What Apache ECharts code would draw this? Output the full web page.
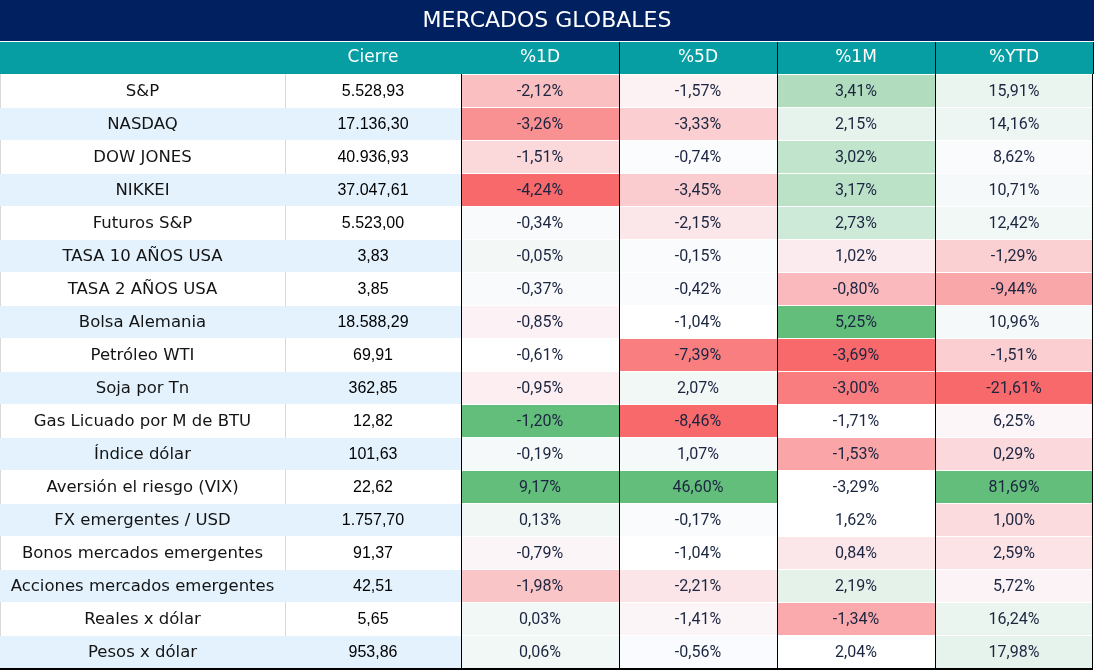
<!DOCTYPE html>
<html><head><meta charset="utf-8">
<script src="https://cdn.jsdelivr.net/npm/echarts@6/dist/echarts.min.js"></script>
<style>html,body{margin:0;padding:0;background:#fff}#c{width:1094px;height:670px}</style>
</head><body><div id="c"></div>
<script>
const titleText = 'MERCADOS GLOBALES';
const closeHeader = ['Cierre'];
const pctHeaders = ['%1D', '%5D', '%1M', '%YTD'];
const instruments = ['S&P', 'NASDAQ', 'DOW JONES', 'NIKKEI', 'Futuros S&P', 'TASA 10 AÑOS USA', 'TASA 2 AÑOS USA',
  'Bolsa Alemania', 'Petróleo WTI', 'Soja por Tn', 'Gas Licuado por M de BTU', 'Índice dólar',
  'Aversión el riesgo (VIX)', 'FX emergentes / USD', 'Bonos mercados emergentes', 'Acciones mercados emergentes',
  'Reales x dólar', 'Pesos x dólar'];
const closeValues = [5528.93, 17136.30, 40936.93, 37047.61, 5523.00, 3.83, 3.85, 18588.29, 69.91, 362.85, 12.82,
  101.63, 22.62, 1757.70, 91.37, 42.51, 5.65, 953.86];
const chg1D = [-2.12, -3.26, -1.51, -4.24, -0.34, -0.05, -0.37, -0.85, -0.61, -0.95, -1.20, -0.19, 9.17, 0.13, -0.79, -1.98, 0.03, 0.06];
const chg5D = [-1.57, -3.33, -0.74, -3.45, -2.15, -0.15, -0.42, -1.04, -7.39, 2.07, -8.46, 1.07, 46.60, -0.17, -1.04, -2.21, -1.41, -0.56];
const chg1M = [3.41, 2.15, 3.02, 3.17, 2.73, 1.02, -0.80, 5.25, -3.69, -3.00, -1.71, -1.53, -3.29, 1.62, 0.84, 2.19, -1.34, 2.04];
const chgYTD = [15.91, 14.16, 8.62, 10.71, 12.42, -1.29, -9.44, 10.96, -1.51, -21.61, 6.25, 0.29, 81.69, 1.00, 2.59, 5.72, 16.24, 17.98];
// cells whose shade in the source does not follow its column's colour scale: [column, row, shade -1..1]
const shadeOverrides = [[0, 10, 1], [2, 10, 0], [2, 12, 0], [2, 17, 0]];

const pctColumns = [chg1D, chg5D, chg1M, chgYTD];
const rowIdx = instruments.map((_, i) => i);

// 3-colour scale (min red, median white, max green) per column
function columnShades(vals, col) {
  const fixed = new Map(shadeOverrides.filter(o => o[0] === col).map(o => [o[1], o[2]]));
  const pool = vals.filter((v, i) => !fixed.has(i)).sort((a, b) => a - b);
  const n = pool.length;
  const med = n % 2 ? pool[(n - 1) / 2] : (pool[n / 2 - 1] + pool[n / 2]) / 2;
  const lo = pool[0], hi = pool[n - 1];
  return vals.map((v, i) => fixed.has(i) ? fixed.get(i) : (v >= med ? (v - med) / (hi - med) : -(med - v) / (med - lo)));
}
const RED = [248, 105, 107], MID = [252, 252, 255], GREEN = [99, 190, 123];
function shadeColor(s) {
  if (s === 0) return '#ffffff';
  const t = Math.min(1, Math.abs(s));
  const end = s < 0 ? RED : GREEN;
  const c = MID.map((m, k) => Math.round(m + (end[k] - m) * t));
  return 'rgb(' + c.join(',') + ')';
}
function fmtClose(v) {
  const [ip, dp] = v.toFixed(2).split('.');
  return ip.replace(/\B(?=(\d{3})+(?!\d))/g, '.') + ',' + dp;
}
function fmtPct(v) { return v.toFixed(2).replace('.', ',') + '%'; }

const N = instruments.length;
const ROW_BLUE = '#e3f2fd';

function cellBox(api) {
  const ctr = api.coord([api.value(0), api.value(1)]);
  const sz = api.size([1, 1]);
  return { cx: ctr[0], cy: ctr[1], x0: ctr[0] - sz[0] / 2, y0: ctr[1] - sz[1] / 2, w: sz[0], h: sz[1] };
}

function renderLabelCell(kind) {
  return function (params, api) {
    const r = api.value(1);
    const b = cellBox(api);
    const blue = r % 2 === 1;
    const children = [
      { type: 'rect', shape: { x: b.x0, y: b.y0 + 1, width: b.w, height: b.h - 1 }, style: { fill: blue ? ROW_BLUE : '#ffffff' } }
    ];
    if (!blue) children.push({ type: 'line', shape: { x1: b.x0 + 0.5, y1: b.y0, x2: b.x0 + 0.5, y2: b.y0 + b.h + 1 }, style: { stroke: '#d9d9d9', lineWidth: 1 } });
    const txt = kind === 'name' ? instruments[r] : fmtClose(closeValues[r]);
    children.push({
      type: 'text', style: {
        text: txt, x: b.cx, y: b.cy + 1, align: 'center', verticalAlign: 'middle',
        font: kind === 'name' ? '16.5px "DejaVu Sans"' : '16px "Liberation Sans"', fill: kind === 'name' ? '#141414' : '#000000'
      }
    });
    if (r === N - 1) children.push({ type: 'line', shape: { x1: b.x0, y1: b.y0 + b.h + 1, x2: b.x0 + b.w, y2: b.y0 + b.h + 1 }, style: { stroke: '#000', lineWidth: 2 } });
    return { type: 'group', children };
  };
}

const shades = pctColumns.map((vals, c) => columnShades(vals, c));
const pctData = [];
pctColumns.forEach((vals, c) => vals.forEach((v, r) => pctData.push([c, r, v, shades[c][r]])));

function renderPct(params, api) {
  const c = api.value(0), r = api.value(1), v = api.value(2), s = api.value(3);
  const b = cellBox(api);
  const children = [
    { type: 'rect', shape: { x: b.x0, y: b.y0 + 1, width: b.w, height: b.h - 1 }, style: { fill: shadeColor(s) } },
    { type: 'text', style: { text: fmtPct(v), x: b.cx, y: b.cy + 1, align: 'center', verticalAlign: 'middle', font: '16px Roboto', fill: '#1b2540' } },
    { type: 'line', shape: { x1: b.x0 + 0.5, y1: b.y0, x2: b.x0 + 0.5, y2: b.y0 + b.h + 1 }, style: { stroke: '#000', lineWidth: 1 } }
  ];
  if (c === pctHeaders.length - 1) children.push({ type: 'line', shape: { x1: b.x0 + b.w - 0.5, y1: b.y0, x2: b.x0 + b.w - 0.5, y2: b.y0 + b.h + 1 }, style: { stroke: '#000', lineWidth: 1 } });
  if (r === N - 1) children.push({ type: 'line', shape: { x1: b.x0, y1: b.y0 + b.h + 1, x2: b.x0 + b.w, y2: b.y0 + b.h + 1 }, style: { stroke: '#000', lineWidth: 2 } });
  return { type: 'group', children };
}

const headerLabel = { color: '#ffffff', fontSize: 17, fontFamily: 'DejaVu Sans', verticalAlign: 'middle', margin: 16 };
const yAx = (gi) => ({ type: 'category', gridIndex: gi, data: rowIdx, inverse: true, show: false });

const option = {
  animation: false,
  backgroundColor: '#ffffff',
  title: {
    text: titleText, left: 'center', top: 5,
    textStyle: { color: '#ffffff', fontSize: 22, fontWeight: 'normal', fontFamily: 'DejaVu Sans' }
  },
  graphic: [
    { type: 'rect', left: 0, top: 0, shape: { width: 1094, height: 41 }, style: { fill: '#002060' } },
    { type: 'rect', left: 0, top: 42, shape: { width: 1094, height: 32 }, style: { fill: '#069ea3' } }
  ],
  grid: [
    { left: 0, top: 74, width: 285, height: 594 },
    { left: 285, top: 74, width: 176, height: 594 },
    { left: 461, top: 74, width: 632, height: 594 }
  ],
  xAxis: [
    { type: 'category', gridIndex: 0, data: [''], position: 'top', axisLine: { show: false }, axisTick: { show: false }, axisLabel: headerLabel },
    {
      type: 'category', gridIndex: 1, data: closeHeader, position: 'top', z: 11, axisLine: { show: false },
      axisTick: { show: true, length: 32, lineStyle: { color: '#ffffff', width: 2 }, interval: (i) => i !== 0 },
      axisLabel: headerLabel
    },
    {
      type: 'category', gridIndex: 2, data: pctHeaders, position: 'top', z: 10, axisLine: { show: false },
      axisTick: { show: true, length: 32, lineStyle: { color: '#000', width: 1 }, interval: (i) => i !== 0 },
      axisLabel: headerLabel
    }
  ],
  yAxis: [yAx(0), yAx(1), yAx(2)],
  series: [
    { type: 'custom', xAxisIndex: 0, yAxisIndex: 0, data: rowIdx.map(r => [0, r]), encode: { x: 0, y: 1 }, renderItem: renderLabelCell('name'), clip: false },
    { type: 'custom', xAxisIndex: 1, yAxisIndex: 1, data: rowIdx.map(r => [0, r]), encode: { x: 0, y: 1 }, renderItem: renderLabelCell('close'), clip: false },
    { type: 'custom', xAxisIndex: 2, yAxisIndex: 2, data: pctData, encode: { x: 0, y: 1 }, renderItem: renderPct, clip: false }
  ]
};
const chart = echarts.init(document.getElementById('c'), null, { renderer: 'canvas' });
chart.setOption(option);
</script>
</body></html>
